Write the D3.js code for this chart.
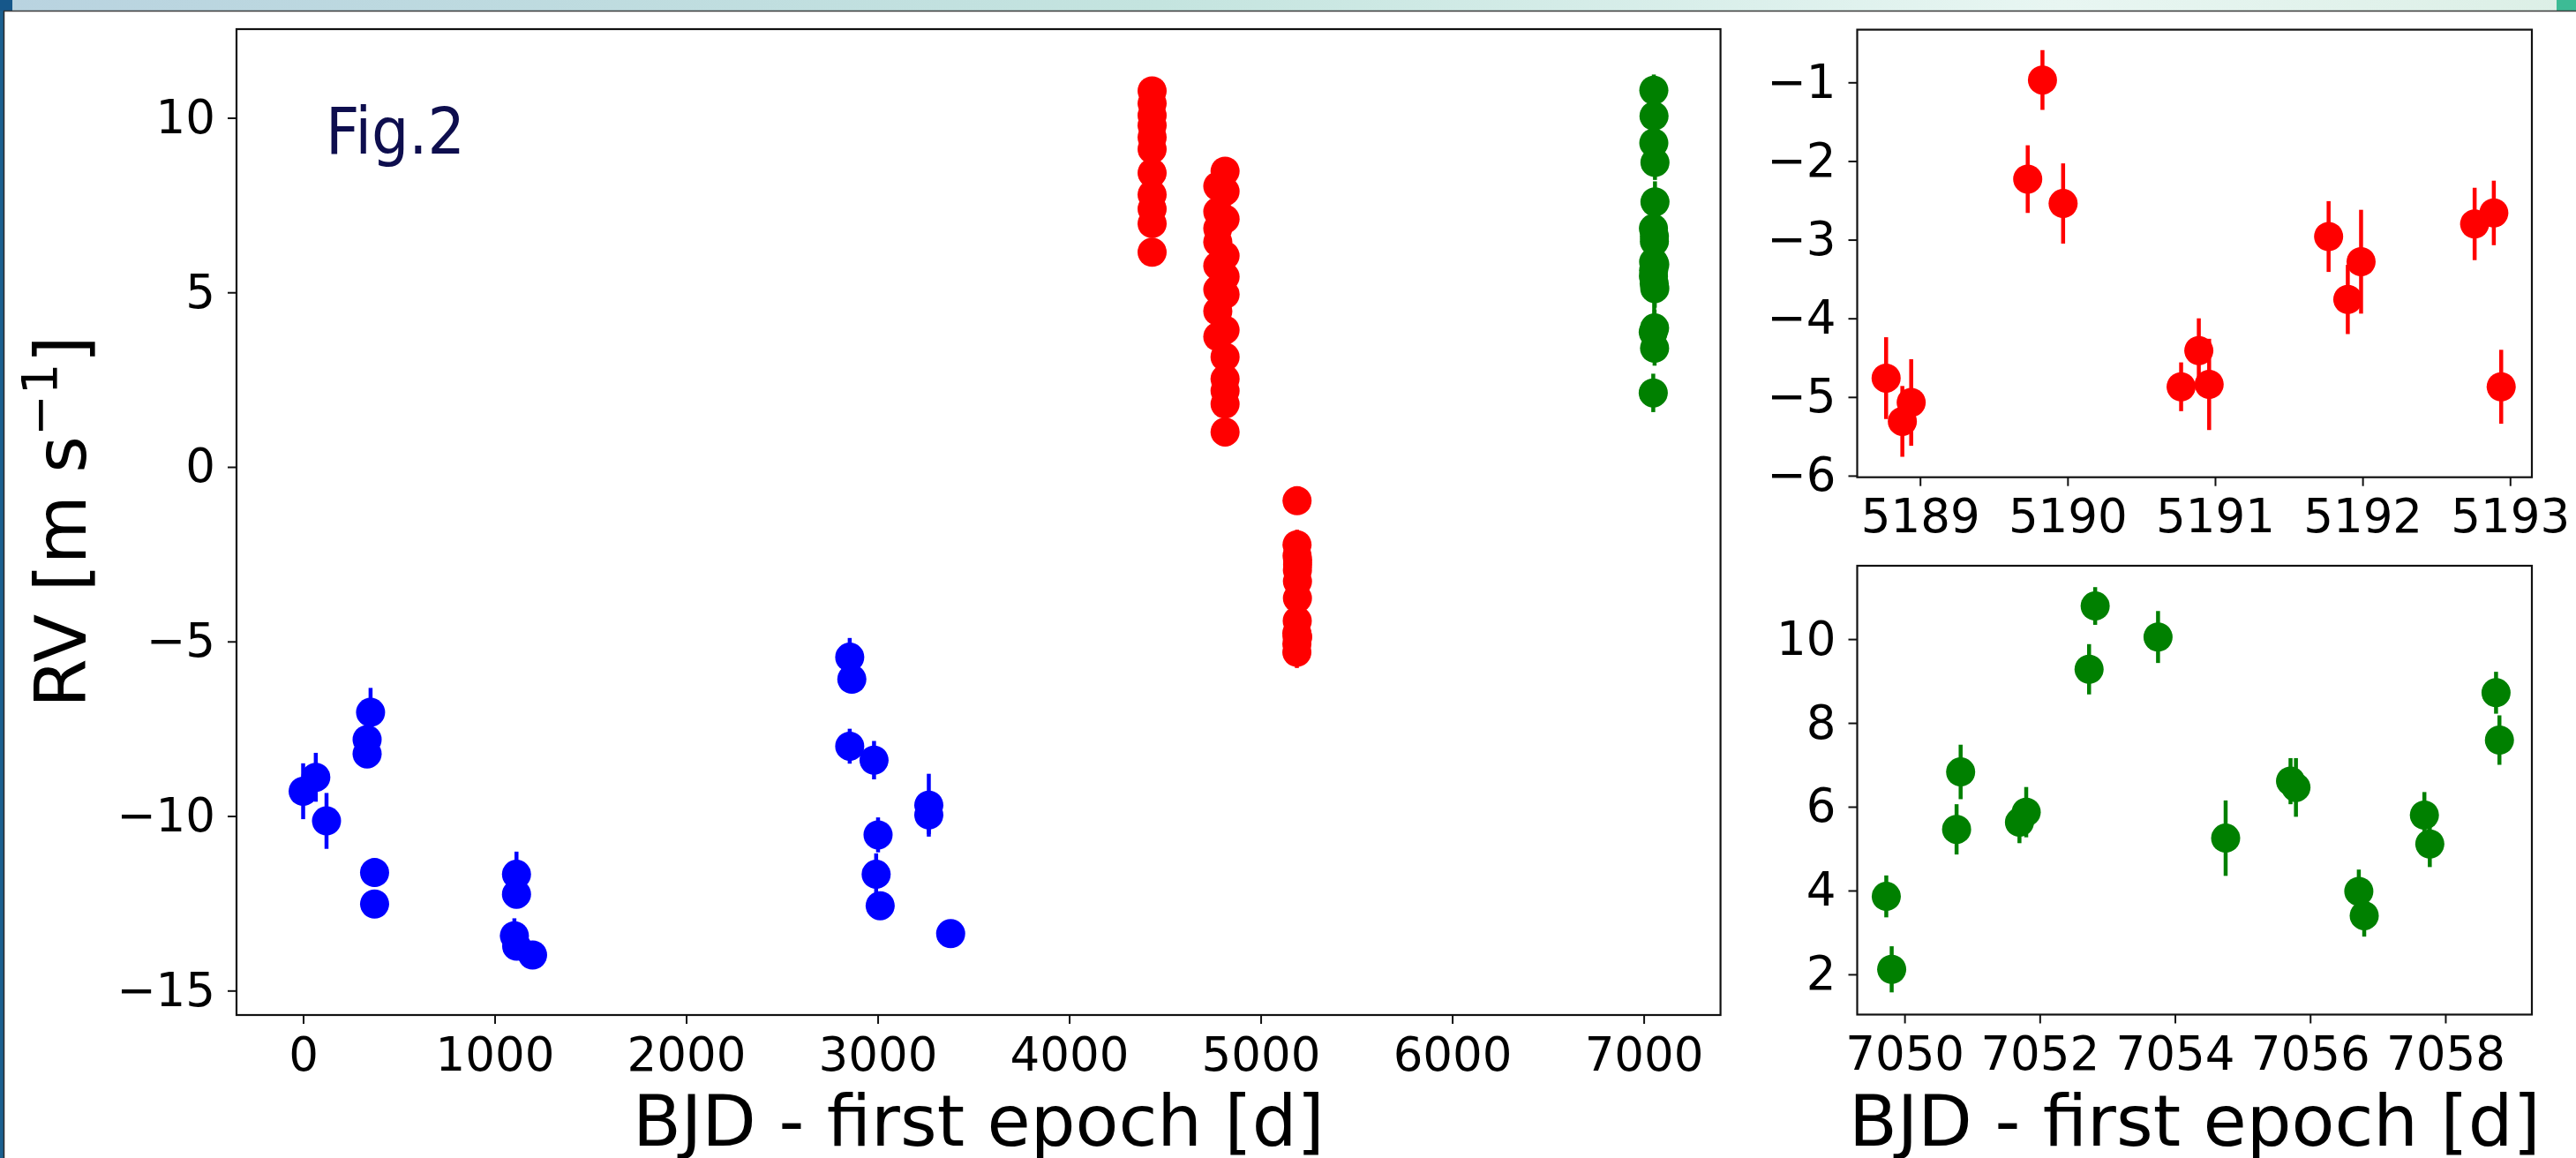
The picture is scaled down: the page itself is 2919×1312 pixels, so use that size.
<!DOCTYPE html>
<html>
<head>
<meta charset="utf-8">
<script src="https://cdn.jsdelivr.net/npm/d3@7"></script>
<style>
  body { margin: 0; background: #fff; }
  svg { display: block; }
</style>
</head>
<body>
<div id="chart"></div>
<script>
// blue: first campaign
const blueT   = [0, 66, 122, 352, 334, 334, 373, 373, 1114, 1114, 1103, 1115, 1198, 2854, 2865, 2854, 2981, 3002, 2992, 3013, 3267, 3267, 3381]
const blueRV  = [-9.29, -8.89, -10.14, -7.03, -7.81, -8.22, -11.62, -12.52, -11.67, -12.24, -13.43, -13.73, -13.98, -5.45, -6.08, -8.0, -8.40, -10.54, -11.67, -12.57, -9.69, -9.97, -13.37]
const blueErr = [0.8, 0.7, 0.8, 0.7, 0.4, 0.4, 0.4, 0.4, 0.65, 0.4, 0.5, 0.4, 0.4, 0.55, 0.4, 0.5, 0.55, 0.5, 0.6, 0.4, 0.9, 0.55, 0.4]

// red: two earlier seasons
const redT   = [4433, 4433, 4433, 4433, 4433, 4433, 4433, 4433, 4433, 4433, 4433,
                4814, 4776, 4814, 4776, 4814, 4776, 4776, 4814, 4776, 4814, 4776, 4814, 4776, 4814, 4776, 4814, 4814, 4814, 4814, 4814]
const redRV  = [10.77, 10.41, 10.07, 9.78, 9.44, 9.10, 8.42, 7.80, 7.39, 6.97, 6.15,
                8.47, 8.04, 7.89, 7.31, 7.10, 6.83, 6.44, 6.05, 5.76, 5.45, 5.08, 4.94, 4.46, 3.92, 3.73, 3.15, 2.52, 2.18, 1.80, 1.00]

// red: the 5189-5193 run (also shown in the upper inset)
const redZoomT   = [5188.77, 5188.88, 5188.94, 5189.73, 5189.83, 5189.97, 5190.77, 5190.89, 5190.96, 5191.77, 5191.90, 5191.99, 5192.76, 5192.89, 5192.94]
const redZoomRV  = [-4.76, -5.31, -5.07, -2.23, -0.97, -2.54, -4.87, -4.41, -4.84, -2.96, -3.76, -3.28, -2.80, -2.66, -4.87]
const redZoomErr = [0.52, 0.45, 0.55, 0.43, 0.38, 0.51, 0.31, 0.41, 0.58, 0.45, 0.44, 0.66, 0.46, 0.41, 0.47]

// green: the 7050-7059 run (also shown in the lower inset)
const greenT   = [7049.73, 7049.81, 7050.77, 7050.83, 7051.70, 7051.80, 7052.73, 7052.82, 7053.75, 7054.75, 7055.71, 7055.79, 7056.72, 7056.80, 7057.69, 7057.77, 7058.75, 7058.80]
const greenRV  = [3.86, 2.12, 5.46, 6.83, 5.63, 5.87, 9.28, 10.79, 10.05, 5.25, 6.61, 6.46, 3.98, 3.40, 5.80, 5.11, 8.72, 7.59]
const greenErr = [0.5, 0.55, 0.6, 0.65, 0.5, 0.6, 0.6, 0.45, 0.62, 0.9, 0.55, 0.7, 0.52, 0.5, 0.55, 0.55, 0.5, 0.59]

const mainXTicks = [0, 1000, 2000, 3000, 4000, 5000, 6000, 7000]
const mainYTicks = [-15, -10, -5, 0, 5, 10]
const redXTicks = [5189, 5190, 5191, 5192, 5193]
const redYTicks = [-6, -5, -4, -3, -2, -1]
const greenXTicks = [7050, 7052, 7054, 7056, 7058]
const greenYTicks = [2, 4, 6, 8, 10]

const width = 2919
const height = 1312
const font = "'DejaVu Sans', sans-serif"

const svg = d3.select("#chart")
  .append("svg")
  .attr("width", width)
  .attr("height", height)
  .attr("viewBox", [0, 0, width, height])

// window chrome at the top / left of the screenshot
const grad = svg.append("defs").append("linearGradient").attr("id", "topbar")
grad.append("stop").attr("offset", "0%").attr("stop-color", "#b9d3e0")
grad.append("stop").attr("offset", "45%").attr("stop-color", "#c4e4df")
grad.append("stop").attr("offset", "80%").attr("stop-color", "#e8f6f2")
grad.append("stop").attr("offset", "100%").attr("stop-color", "#dcefe6")
svg.append("rect").attr("x", 0).attr("y", 0).attr("width", width).attr("height", 12).attr("fill", "url(#topbar)")
svg.append("rect").attr("x", 0).attr("y", 0).attr("width", 4).attr("height", height).attr("fill", "#1b5f8f")
svg.append("rect").attr("x", 0).attr("y", 0).attr("width", 14).attr("height", 12).attr("fill", "#16578a")
svg.append("rect").attr("x", 2897).attr("y", 0).attr("width", 22).attr("height", 12).attr("fill", "#3dbb95")
svg.append("line").attr("x1", 4).attr("x2", width).attr("y1", 12.5).attr("y2", 12.5).attr("stroke", "#3a3a3a").attr("stroke-width", 1.5)
svg.append("line").attr("x1", 4.5).attr("x2", 4.5).attr("y1", 12).attr("y2", height).attr("stroke", "#2a2a2a").attr("stroke-width", 1.5)

function panel(box, xDomain, yDomain, xTicks, yTicks) {
  const x = d3.scaleLinear().domain(xDomain).range([box.left, box.right])
  const y = d3.scaleLinear().domain(yDomain).range([box.bottom, box.top])
  const g = svg.append("g")

  const xAxis = g.append("g")
    .attr("transform", `translate(0,${box.bottom})`)
    .call(d3.axisBottom(x).tickValues(xTicks).tickFormat(d3.format("d")).tickSize(10).tickPadding(14).tickSizeOuter(0))
  const yAxis = g.append("g")
    .attr("transform", `translate(${box.left},0)`)
    .call(d3.axisLeft(y).tickValues(yTicks).tickFormat(d => d < 0 ? "\u2212" + Math.abs(d) : d).tickSize(10).tickPadding(14).tickSizeOuter(0))

  for (const a of [xAxis, yAxis]) {
    a.select(".domain").remove()
    a.selectAll("line").attr("stroke", "#111").attr("stroke-width", 2)
    a.selectAll("text").attr("font-family", font).attr("font-size", 53).attr("fill", "#000")
  }
  xAxis.selectAll("text").attr("dy", "0.73em")

  g.append("rect")
    .attr("x", box.left).attr("y", box.top)
    .attr("width", box.right - box.left).attr("height", box.bottom - box.top)
    .attr("fill", "none").attr("stroke", "#111").attr("stroke-width", 2.2)

  return { x, y, g }
}

function errorPoints(p, ts, vs, errs, color) {
  const rows = ts.map((t, i) => ({ t, v: vs[i], e: errs[i] }))
  p.g.append("g")
    .selectAll("line")
    .data(rows)
    .join("line")
    .attr("x1", d => p.x(d.t)).attr("x2", d => p.x(d.t))
    .attr("y1", d => p.y(d.v - d.e)).attr("y2", d => p.y(d.v + d.e))
    .attr("stroke", color)
    .attr("stroke-width", 4.5)
  p.g.append("g")
    .selectAll("circle")
    .data(rows)
    .join("circle")
    .attr("cx", d => p.x(d.t))
    .attr("cy", d => p.y(d.v))
    .attr("r", 16.5)
    .attr("fill", color)
}

// main panel
const mainPanel = panel({ left: 268, right: 1949.6, top: 33, bottom: 1150 }, [-348, 7401], [-15.7, 12.54], mainXTicks, mainYTicks)
errorPoints(mainPanel, blueT, blueRV, blueErr, "#0000ff")
errorPoints(mainPanel, redT, redRV, redRV.map(() => 0.4), "#ff0000")
errorPoints(mainPanel, redZoomT, redZoomRV, redZoomErr, "#ff0000")
errorPoints(mainPanel, greenT, greenRV, greenErr, "#008000")

mainPanel.g.append("text")
  .attr("x", 369).attr("y", 174)
  .attr("font-family", font).attr("font-size", 73)
  .attr("textLength", 158).attr("lengthAdjust", "spacingAndGlyphs")
  .attr("fill", "#0e0e4e")
  .text("Fig.2")

const ylab = svg.append("text")
  .attr("transform", "translate(97,591) rotate(-90)")
  .attr("text-anchor", "middle")
  .attr("font-family", font).attr("font-size", 80)
ylab.append("tspan").text("RV [m s")
ylab.append("tspan").attr("font-size", 56).attr("dy", -33).text("\u22121")
ylab.append("tspan").attr("dy", 33).text("]")

svg.append("text")
  .attr("x", 1108.8).attr("y", 1298)
  .attr("text-anchor", "middle")
  .attr("font-family", font).attr("font-size", 80)
  .text("BJD - first epoch [d]")

// upper inset: red run
const redPanel = panel({ left: 2104.5, right: 2869, top: 33.6, bottom: 540.7 }, [5188.574, 5193.148], [-6.02, -0.33], redXTicks, redYTicks)
errorPoints(redPanel, redZoomT, redZoomRV, redZoomErr, "#ff0000")

// lower inset: green run
const greenPanel = panel({ left: 2104.5, right: 2869, top: 641, bottom: 1149.5 }, [7049.30, 7059.28], [1.04, 11.75], greenXTicks, greenYTicks)
errorPoints(greenPanel, greenT, greenRV, greenErr, "#008000")

svg.append("text")
  .attr("x", 2486.8).attr("y", 1298)
  .attr("text-anchor", "middle")
  .attr("font-family", font).attr("font-size", 80)
  .text("BJD - first epoch [d]")
</script>
</body>
</html>
